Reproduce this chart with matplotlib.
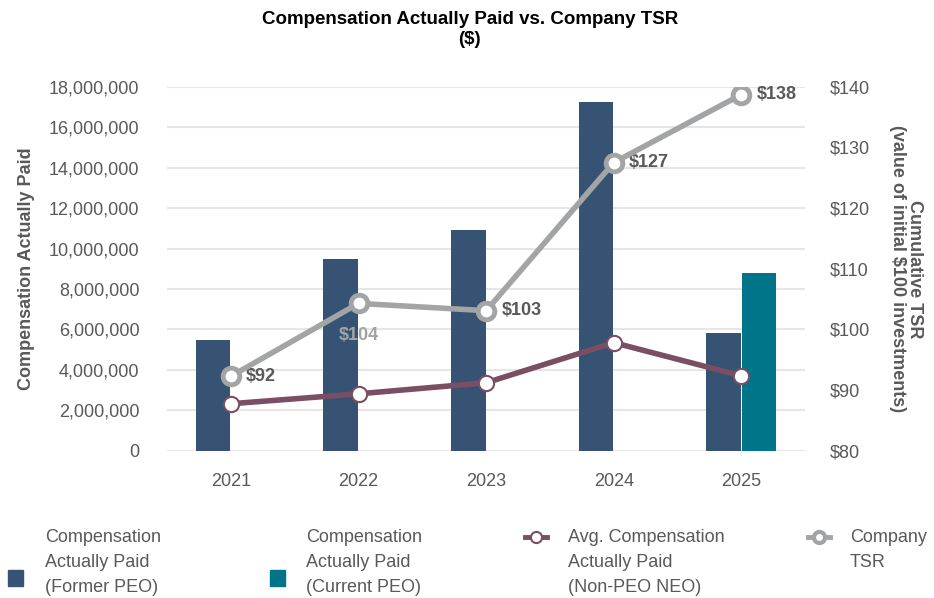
import numpy as np
import matplotlib.pyplot as plt
from matplotlib.lines import Line2D
from matplotlib.patches import Rectangle
from matplotlib.ticker import FuncFormatter

plt.rcParams["font.family"] = ["Liberation Sans", "DejaVu Sans"]

# Dados do gráfico
anos = ["2021", "2022", "2023", "2024", "2025"]
cap_peo_anterior = [5480000, 9500000, 10930000, 17250000, 5850000]
cap_peo_atual = [0, 0, 0, 0, 8800000]
cap_media_neo = [2330000, 2820000, 3370000, 5350000, 3710000]
tsr = [92.3, 104.3, 103.1, 127.5, 138.7]

cor_anterior = "#365373"
cor_atual = "#00758a"
cor_neo = "#7a4e63"
cor_tsr = "#a2a4a6"
cor_texto = "#595959"

fig = plt.figure(figsize=(9.34, 5.98), dpi=100)
ax = fig.add_axes([0.179, 0.246, 0.683, 0.609])
ax2 = ax.twinx()

x = np.arange(len(anos))
largura = 0.27
ax.bar(x - 0.14, cap_peo_anterior, largura, color=cor_anterior, zorder=2)
ax.bar(x + 0.14, cap_peo_atual, largura, color=cor_atual, zorder=2)
ax.plot(x, cap_media_neo, color=cor_neo, lw=4, marker="o", ms=11,
        mfc="white", mec=cor_neo, mew=1.5, zorder=3)

ax2.plot(x, tsr, color=cor_tsr, lw=4, marker="o", ms=12,
         mfc="white", mec=cor_tsr, mew=3.5, zorder=4)

# Rótulos do TSR
for i, v in enumerate(tsr):
    rotulo = f"${int(v)}"
    if i == 1:
        ax2.annotate(rotulo, (x[i], v), xytext=(0, -17), textcoords="offset points",
                     ha="center", va="top", fontsize=13, fontweight="bold",
                     color=cor_tsr)
    else:
        ax2.annotate(rotulo, (x[i], v), xytext=(11, 0), textcoords="offset points",
                     ha="left", va="center", fontsize=13, fontweight="bold",
                     color=cor_texto)

# Eixos
ax.set_xlim(-0.5, 4.5)
ax.set_ylim(0, 18000000)
ax.set_yticks(np.arange(0, 18000001, 2000000))
ax.yaxis.set_major_formatter(FuncFormatter(lambda v, p: f"{v:,.0f}"))
ax.set_xticks(x)
ax.set_xticklabels(anos)
ax2.set_ylim(80, 140)
ax2.set_yticks(np.arange(80, 141, 10))
ax2.yaxis.set_major_formatter(FuncFormatter(lambda v, p: f"${v:.0f}"))

ax.grid(axis="y", color="#e6e6e6", lw=1.5, zorder=0)
ax.set_axisbelow(True)
for a in (ax, ax2):
    for s in a.spines.values():
        s.set_visible(False)
    a.tick_params(length=0, labelsize=13, labelcolor=cor_texto)
ax.tick_params(axis="y", pad=20)
ax.tick_params(axis="x", pad=16)
ax2.tick_params(axis="y", pad=18)

ax.set_ylabel("Compensation Actually Paid", fontsize=13, fontweight="bold",
              color=cor_texto, labelpad=10)
ax2.set_ylabel("Cumulative TSR\n(value of initial $100 investments)", fontsize=13,
               fontweight="bold", color=cor_texto, rotation=-90, labelpad=38,
               linespacing=1.0)

fig.text(0.503, 0.982, "Compensation Actually Paid vs. Company TSR\n($)",
         ha="center", va="top", fontsize=13.5, fontweight="bold", linespacing=1.25)

# Legenda manual
legenda = [
    ("bar", cor_anterior, "Compensation\nActually Paid\n(Former PEO)", 8, 45),
    ("bar", cor_atual, "Compensation\nActually Paid\n(Current PEO)", 270, 306),
    ("line", cor_neo, "Avg. Compensation\nActually Paid\n(Non-PEO NEO)", 525, 568),
    ("line", cor_tsr, "Company\nTSR", 808, 850),
]
W, H = 934, 598
for tipo, cor, texto, xm, xt in legenda:
    if tipo == "bar":
        fig.patches.append(Rectangle((xm / W, 1 - 586 / H), 15 / W, 16 / H,
                                     color=cor, transform=fig.transFigure))
    else:
        mew = 1.5 if cor == cor_neo else 3
        fig.lines.append(Line2D([xm / W, (xm + 22) / W], [1 - 537 / H] * 2,
                                color=cor, lw=3.5, transform=fig.transFigure))
        fig.lines.append(Line2D([(xm + 11) / W], [1 - 537 / H], color=cor,
                                marker="o", ms=8, mfc="white", mec=cor, mew=mew,
                                lw=0, transform=fig.transFigure))
    fig.text(xt / W, 1 - 529 / H, texto, ha="left", va="top", fontsize=13,
             color=cor_texto, linespacing=1.6)

fig.savefig("out.png", dpi=100)
